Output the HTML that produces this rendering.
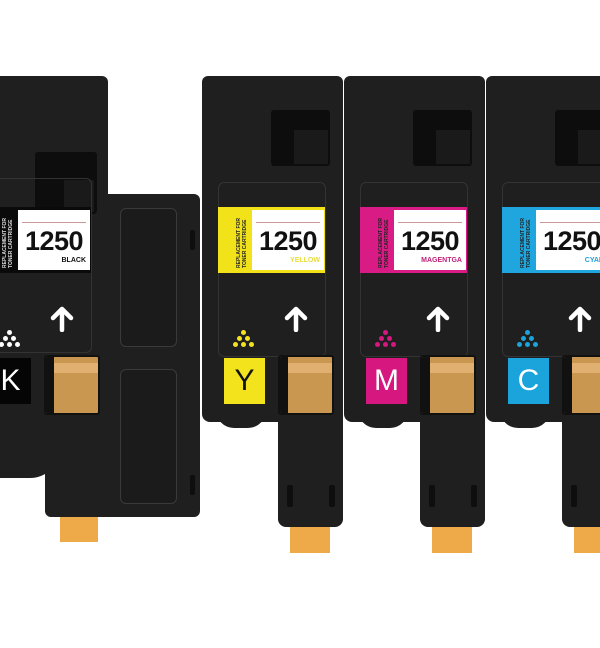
<!DOCTYPE html>
<html><head><style>
*{margin:0;padding:0;box-sizing:border-box}
body{width:600px;height:600px;background:#fff;position:relative;overflow:hidden;font-family:"Liberation Sans",sans-serif}
.a{position:absolute}
.c{position:absolute;top:0;width:145px;height:600px}
.body{background:#1f1f1f}
.win{background:#0d0d0d;border-radius:3px}
.panel{border:1px solid #333;border-radius:6px}
.white{background:#fff}
.num{position:absolute;left:0;right:0;top:16px;text-align:center;font-weight:bold;font-size:27px;color:#111;letter-spacing:-0.5px}
.nm{position:absolute;left:0;right:4px;top:47px;text-align:right;font-weight:bold;font-size:7px}
.ln{position:absolute;left:4px;right:4px;top:12px;height:1px;background:#c99}
.vt{position:absolute;left:2px;top:4px;width:12px;height:58px;writing-mode:vertical-rl;transform:rotate(180deg);font-size:5px;font-weight:bold;color:#222;line-height:6px}
.dot{position:absolute;width:5px;height:5px;border-radius:50%}
.lb{display:flex;align-items:center;justify-content:center;font-size:30px;color:#fff}
.ow{background:#c9974f;border:2px solid #111;border-radius:3px;overflow:hidden}
.ow:before{content:"";position:absolute;left:0;right:0;top:6px;height:10px;background:#e0b070}
.ow:after{content:"";position:absolute;left:0;top:0;bottom:0;width:8px;background:#111}
.ot{background:#eeaa48}
.slot{background:#0e0e0e;border-radius:2px}
</style></head><body>

<!-- BLACK cartridge -->
<div class="a body" style="left:0;top:76px;width:108px;height:394px;border-radius:0 6px 0 0"></div>
<div class="a body" style="left:0;top:440px;width:60px;height:38px;border-radius:0 0 30px 0"></div>
<div class="a body" style="left:45px;top:194px;width:155px;height:323px;border-radius:6px"></div>
<div class="a win" style="left:35px;top:152px;width:62px;height:62px"></div>
<div class="a" style="left:64px;top:180px;width:30px;height:32px;background:#1a1a1a"></div>
<div class="a panel" style="left:120px;top:208px;width:57px;height:139px;border-color:#3a3a3a;background:#1b1b1b"></div>
<div class="a panel" style="left:120px;top:369px;width:57px;height:135px;border-color:#3a3a3a;background:#1b1b1b"></div>
<div class="a slot" style="left:190px;top:230px;width:5px;height:20px"></div>
<div class="a slot" style="left:190px;top:475px;width:5px;height:20px"></div>
<div class="a ot" style="left:60px;top:517px;width:38px;height:25px"></div>

<div class="c" style="left:-32px;top:48px">
 <div class="a panel" style="left:16px;top:130px;width:108px;height:175px"></div>
 <div class="a" style="left:16px;top:159px;width:107px;height:66px;background:#0a0a0a"></div>
 <div class="a white" style="left:50px;top:162px;width:72px;height:60px"><div class="ln"></div><div class="num">1250</div><div class="nm" style="color:#111">BLACK</div></div>
 <div class="a vt" style="left:34px;top:162px;color:#ddd">REPLACEMENT FOR TONER CARTRIDGE</div>
 <div class="a lb" style="left:22px;top:310px;width:41px;height:46px;background:#050505">K</div>
 <svg class="a" style="left:82px;top:258px" width="24" height="26"><path d="M12 24V4M3 12L12 3L21 12" stroke="#fff" stroke-width="4.5" fill="none" stroke-linecap="round" stroke-linejoin="round"/></svg>
 <div class="a ow" style="left:76px;top:307px;width:56px;height:60px"></div>
 <div class="dot" style="left:39px;top:282px;background:#fff"></div>
 <div class="dot" style="left:35px;top:288px;background:#fff"></div><div class="dot" style="left:43px;top:288px;background:#fff"></div>
 <div class="dot" style="left:31px;top:294px;background:#fff"></div><div class="dot" style="left:39px;top:294px;background:#fff"></div><div class="dot" style="left:47px;top:294px;background:#fff"></div>
</div>

<!-- color cartridges -->
<div class="c" style="left:202px">
 <div class="a body" style="left:0;top:76px;width:141px;height:346px;border-radius:6px 6px 8px 8px"></div>
 <div class="a body" style="left:14px;top:410px;width:50px;height:18px;border-radius:0 0 25px 25px"></div>
 <div class="a body" style="left:76px;top:400px;width:65px;height:127px;border-radius:0 0 8px 8px"></div>
 <div class="a win" style="left:69px;top:110px;width:59px;height:56px"></div>
 <div class="a" style="left:92px;top:130px;width:34px;height:34px;background:#1a1a1a"></div>
 <div class="a panel" style="left:16px;top:182px;width:108px;height:175px"></div>
 <div class="a" style="left:16px;top:207px;width:107px;height:66px;background:#f2e21a"></div>
 <div class="a white" style="left:50px;top:210px;width:72px;height:60px"><div class="ln"></div><div class="num">1250</div><div class="nm" style="color:#e8dc3a">YELLOW</div></div>
 <div class="a vt" style="left:34px;top:210px">REPLACEMENT FOR TONER CARTRIDGE</div>
 <div class="a lb" style="left:22px;top:358px;width:41px;height:46px;background:#f3e31c;color:#111">Y</div>
 <svg class="a" style="left:82px;top:306px" width="24" height="26"><path d="M12 24V4M3 12L12 3L21 12" stroke="#fff" stroke-width="4.5" fill="none" stroke-linecap="round" stroke-linejoin="round"/></svg>
 <div class="a ow" style="left:76px;top:355px;width:56px;height:60px"></div>
 <div class="a slot" style="left:85px;top:485px;width:6px;height:22px"></div><div class="a slot" style="left:127px;top:485px;width:6px;height:22px"></div>
 <div class="a ot" style="left:88px;top:527px;width:40px;height:26px"></div>
 <div class="dot" style="left:39px;top:330px;background:#f3e31c"></div>
 <div class="dot" style="left:35px;top:336px;background:#f3e31c"></div><div class="dot" style="left:43px;top:336px;background:#f3e31c"></div>
 <div class="dot" style="left:31px;top:342px;background:#f3e31c"></div><div class="dot" style="left:39px;top:342px;background:#f3e31c"></div><div class="dot" style="left:47px;top:342px;background:#f3e31c"></div>
</div>

<div class="c" style="left:344px">
 <div class="a body" style="left:0;top:76px;width:141px;height:346px;border-radius:6px 6px 8px 8px"></div>
 <div class="a body" style="left:14px;top:410px;width:50px;height:18px;border-radius:0 0 25px 25px"></div>
 <div class="a body" style="left:76px;top:400px;width:65px;height:127px;border-radius:0 0 8px 8px"></div>
 <div class="a win" style="left:69px;top:110px;width:59px;height:56px"></div>
 <div class="a" style="left:92px;top:130px;width:34px;height:34px;background:#1a1a1a"></div>
 <div class="a panel" style="left:16px;top:182px;width:108px;height:175px"></div>
 <div class="a" style="left:16px;top:207px;width:107px;height:66px;background:#d81b85"></div>
 <div class="a white" style="left:50px;top:210px;width:72px;height:60px"><div class="ln"></div><div class="num">1250</div><div class="nm" style="color:#c0207a">MAGENTGA</div></div>
 <div class="a vt" style="left:34px;top:210px">REPLACEMENT FOR TONER CARTRIDGE</div>
 <div class="a lb" style="left:22px;top:358px;width:41px;height:46px;background:#d6177f">M</div>
 <svg class="a" style="left:82px;top:306px" width="24" height="26"><path d="M12 24V4M3 12L12 3L21 12" stroke="#fff" stroke-width="4.5" fill="none" stroke-linecap="round" stroke-linejoin="round"/></svg>
 <div class="a ow" style="left:76px;top:355px;width:56px;height:60px"></div>
 <div class="a slot" style="left:85px;top:485px;width:6px;height:22px"></div><div class="a slot" style="left:127px;top:485px;width:6px;height:22px"></div>
 <div class="a ot" style="left:88px;top:527px;width:40px;height:26px"></div>
 <div class="dot" style="left:39px;top:330px;background:#d6177f"></div>
 <div class="dot" style="left:35px;top:336px;background:#d6177f"></div><div class="dot" style="left:43px;top:336px;background:#d6177f"></div>
 <div class="dot" style="left:31px;top:342px;background:#d6177f"></div><div class="dot" style="left:39px;top:342px;background:#d6177f"></div><div class="dot" style="left:47px;top:342px;background:#d6177f"></div>
</div>

<div class="c" style="left:486px">
 <div class="a body" style="left:0;top:76px;width:141px;height:346px;border-radius:6px 6px 8px 8px"></div>
 <div class="a body" style="left:14px;top:410px;width:50px;height:18px;border-radius:0 0 25px 25px"></div>
 <div class="a body" style="left:76px;top:400px;width:65px;height:127px;border-radius:0 0 8px 8px"></div>
 <div class="a win" style="left:69px;top:110px;width:59px;height:56px"></div>
 <div class="a" style="left:92px;top:130px;width:34px;height:34px;background:#1a1a1a"></div>
 <div class="a panel" style="left:16px;top:182px;width:108px;height:175px"></div>
 <div class="a" style="left:16px;top:207px;width:107px;height:66px;background:#1fa6df"></div>
 <div class="a white" style="left:50px;top:210px;width:72px;height:60px"><div class="ln"></div><div class="num">1250</div><div class="nm" style="color:#1fa0d8">CYAN</div></div>
 <div class="a vt" style="left:34px;top:210px">REPLACEMENT FOR TONER CARTRIDGE</div>
 <div class="a lb" style="left:22px;top:358px;width:41px;height:46px;background:#1ba3dc">C</div>
 <svg class="a" style="left:82px;top:306px" width="24" height="26"><path d="M12 24V4M3 12L12 3L21 12" stroke="#fff" stroke-width="4.5" fill="none" stroke-linecap="round" stroke-linejoin="round"/></svg>
 <div class="a ow" style="left:76px;top:355px;width:56px;height:60px"></div>
 <div class="a slot" style="left:85px;top:485px;width:6px;height:22px"></div>
 <div class="a ot" style="left:88px;top:527px;width:40px;height:26px"></div>
 <div class="dot" style="left:39px;top:330px;background:#1ba3dc"></div>
 <div class="dot" style="left:35px;top:336px;background:#1ba3dc"></div><div class="dot" style="left:43px;top:336px;background:#1ba3dc"></div>
 <div class="dot" style="left:31px;top:342px;background:#1ba3dc"></div><div class="dot" style="left:39px;top:342px;background:#1ba3dc"></div><div class="dot" style="left:47px;top:342px;background:#1ba3dc"></div>
</div>
</body></html>
